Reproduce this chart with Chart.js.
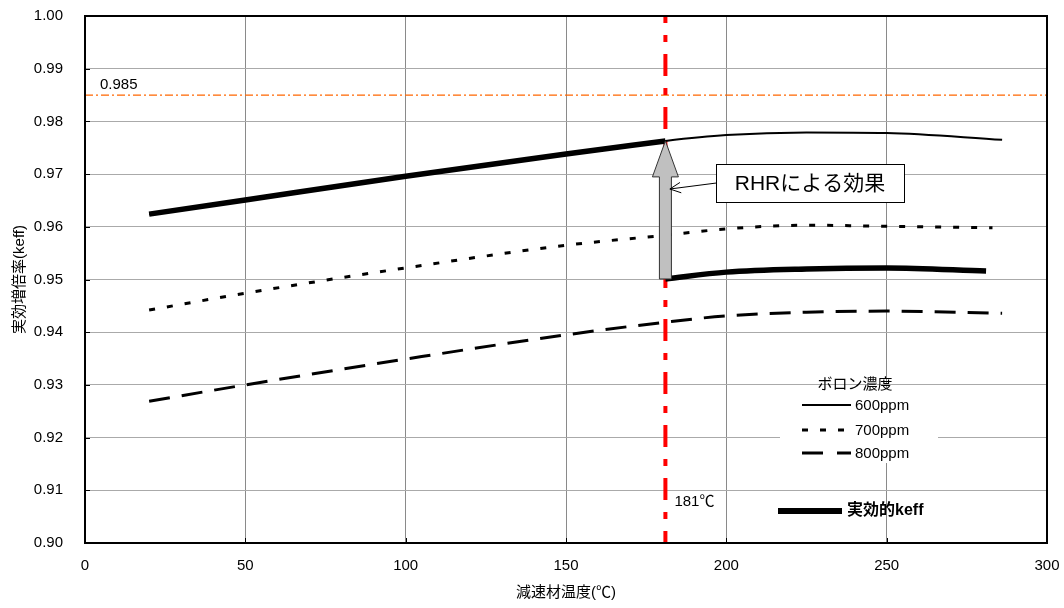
<!DOCTYPE html>
<html>
<head>
<meta charset="utf-8">
<script src="https://cdn.jsdelivr.net/npm/chart.js@4"></script>
<style>
  body { margin: 0; background: #fff; }
  #wrap { width: 1064px; height: 608px; }
</style>
</head>
<body>
<div id="wrap"><canvas id="myChart" width="1064" height="608"></canvas></div>
<script>
// data
var temps = [20, 50, 100, 150, 181, 200, 225, 250, 286];
var keff600 = [0.9624, 0.9651, 0.9696, 0.9738, 0.9763, 0.9774, 0.9779, 0.9778, 0.9765];
var temps700 = [20, 50, 100, 150, 181, 200, 225, 250, 283];
var keff700 = [0.9442, 0.9474, 0.9522, 0.9565, 0.9584, 0.9596, 0.9603, 0.9601, 0.9598];
var keff800 = [0.9269, 0.9300, 0.9349, 0.9395, 0.9419, 0.9431, 0.9438, 0.9440, 0.9436];
var tempsRhr = [181, 200, 225, 250, 281];
var keffRhr = [0.9501, 0.9514, 0.9520, 0.9522, 0.9516];
var limitKeff = 0.985;
var rhrTemp = 181;
var xTicks = [0, 50, 100, 150, 200, 250, 300];
var yTicks = [0.90, 0.91, 0.92, 0.93, 0.94, 0.95, 0.96, 0.97, 0.98, 0.99, 1.00];

var FONT = "'Liberation Sans', 'Noto Sans CJK JP', sans-serif";

function pts(xs, ys) {
   return xs.map(function (x, i) { return { x: x, y: ys[i] }; });
}

// effective keff: 600ppm curve up to 181, then the RHR curve
var effFirst = pts(temps.slice(0, 5), keff600.slice(0, 5));

var curve = { pointRadius: 0, tension: 0.4, cubicInterpolationMode: 'monotone', fill: false };

var datasets = [
   Object.assign({ label: '実効的keff', data: effFirst, borderColor: '#000', borderWidth: 5.5 }, curve),
   Object.assign({ label: '実効的keff2', data: pts(tempsRhr, keffRhr), borderColor: '#000', borderWidth: 5.5 }, curve),
   Object.assign({ label: '600ppm', data: pts(temps, keff600), borderColor: '#000', borderWidth: 2 }, curve),
   Object.assign({ label: '700ppm', data: pts(temps700, keff700), borderColor: '#000', borderWidth: 3, borderDash: [6, 12] }, curve),
   Object.assign({ label: '800ppm', data: pts(temps, keff800), borderColor: '#000', borderWidth: 3, borderDash: [21, 12] }, curve),
   { label: '181', data: [{ x: rhrTemp, y: 1.0 }, { x: rhrTemp, y: 0.9 }], borderColor: '#ff0000', borderWidth: 4,
     borderDash: [22, 12, 7, 12], borderDashOffset: 15, pointRadius: 0 },
   { label: '0.985', data: [{ x: 0, y: limitKeff }, { x: 300, y: limitKeff }], borderColor: '#ff6600', borderWidth: 1.3,
     borderDash: [8, 3, 2, 3], pointRadius: 0 }
];

var extras = {
   id: 'extras',
   afterDatasetsDraw: function (chart) {
      var ctx = chart.ctx;
      var xs = chart.scales.x, ys = chart.scales.y;
      var a = chart.chartArea;

      // frame and inner tick marks
      ctx.save();
      ctx.strokeStyle = '#000';
      ctx.lineWidth = 2;
      ctx.strokeRect(a.left, a.top, a.right - a.left, a.bottom - a.top);
      ctx.lineWidth = 1;
      ctx.beginPath();
      yTicks.forEach(function (v) {
         var py = Math.round(ys.getPixelForValue(v)) + 0.5;
         ctx.moveTo(a.left, py); ctx.lineTo(a.left + 5, py);
      });
      xTicks.forEach(function (v) {
         var px = Math.round(xs.getPixelForValue(v)) + 0.5;
         ctx.moveTo(px, a.bottom); ctx.lineTo(px, a.bottom - 5);
      });
      ctx.stroke();

      // block arrow (RHR effect)
      var ax = xs.getPixelForValue(rhrTemp);
      var yBot = ys.getPixelForValue(keffRhr[0]);
      var yTip = ys.getPixelForValue(keff600[4]);
      var sw = 6, hw = 13, hh = 36;
      ctx.beginPath();
      ctx.moveTo(ax - sw, yBot);
      ctx.lineTo(ax - sw, yTip + hh);
      ctx.lineTo(ax - hw, yTip + hh);
      ctx.lineTo(ax, yTip);
      ctx.lineTo(ax + hw, yTip + hh);
      ctx.lineTo(ax + sw, yTip + hh);
      ctx.lineTo(ax + sw, yBot);
      ctx.closePath();
      ctx.fillStyle = '#c0c0c0';
      ctx.fill();
      ctx.strokeStyle = '#333';
      ctx.lineWidth = 1;
      ctx.stroke();

      // callout box
      var bx1 = xs.getPixelForValue(196.8), bx2 = xs.getPixelForValue(255.4);
      var by1 = ys.getPixelForValue(0.9719), by2 = ys.getPixelForValue(0.9647);
      ctx.fillStyle = '#fff';
      ctx.fillRect(bx1, by1, bx2 - bx1, by2 - by1);
      ctx.strokeStyle = '#000';
      ctx.strokeRect(Math.round(bx1) + 0.5, Math.round(by1) + 0.5, Math.round(bx2 - bx1), Math.round(by2 - by1));
      ctx.fillStyle = '#000';
      ctx.font = '21px ' + FONT;
      ctx.textAlign = 'center';
      ctx.textBaseline = 'middle';
      ctx.fillText('RHRによる効果', (bx1 + bx2) / 2, (by1 + by2) / 2 + 1);

      // leader with open arrowhead
      var lx = xs.getPixelForValue(182.4), ly = ys.getPixelForValue(0.96717);
      var sx = bx1, sy = (by1 + by2) / 2;
      var ang = Math.atan2(sy - ly, sx - lx);
      ctx.beginPath();
      ctx.moveTo(sx, sy); ctx.lineTo(lx, ly);
      ctx.moveTo(lx + 12 * Math.cos(ang - 0.45), ly + 12 * Math.sin(ang - 0.45));
      ctx.lineTo(lx, ly);
      ctx.lineTo(lx + 12 * Math.cos(ang + 0.45), ly + 12 * Math.sin(ang + 0.45));
      ctx.stroke();

      // labels
      ctx.font = '15px ' + FONT;
      ctx.textAlign = 'left';
      ctx.fillText('0.985', 100, ys.getPixelForValue(limitKeff) - 10);
      ctx.fillText('181℃', ax + 9, 502);

      // legend box
      ctx.fillStyle = '#fff';
      ctx.fillRect(780, 388, 158, 75);
      ctx.fillStyle = '#000';
      ctx.textAlign = 'center';
      ctx.fillText('ボロン濃度', 855, 385);
      ctx.textAlign = 'left';
      var rows = [
         { t: '600ppm', y: 405, dash: [], w: 2 },
         { t: '700ppm', y: 430, dash: [6, 12], w: 3 },
         { t: '800ppm', y: 453, dash: [21, 14], w: 3 }
      ];
      rows.forEach(function (r) {
         ctx.save();
         ctx.setLineDash(r.dash);
         ctx.lineWidth = r.w;
         ctx.beginPath();
         ctx.moveTo(802, r.y); ctx.lineTo(851, r.y);
         ctx.stroke();
         ctx.restore();
         ctx.fillText(r.t, 855, r.y + 1);
      });
      ctx.lineWidth = 6;
      ctx.beginPath();
      ctx.moveTo(778, 511); ctx.lineTo(842, 511);
      ctx.stroke();
      ctx.font = 'bold 16px ' + FONT;
      ctx.fillText('実効的keff', 847, 511);
      ctx.restore();
   }
};

var ctx = document.getElementById('myChart').getContext('2d');
var myChart = new Chart(ctx, {
   type: 'line',
   data: { datasets: datasets },
   plugins: [extras],
   options: {
      responsive: false,
      animation: false,
      layout: { padding: { top: 16, right: 17, left: 0, bottom: 0 } },
      plugins: { legend: { display: false }, tooltip: { enabled: false } },
      scales: {
         x: {
            type: 'linear', min: 0, max: 300,
            afterFit: function (s) {
               s.height = 65;
               s.paddingLeft = 0; s.paddingRight = 0;
            },
            afterBuildTicks: function (s) { s.ticks = xTicks.map(function (v) { return { value: v }; }); },
            grid: { color: '#8a8a8a', drawTicks: false },
            border: { color: '#000', width: 2 },
            ticks: { padding: 14, color: '#000', font: { family: FONT, size: 15 }, maxRotation: 0 },
            title: { display: true, text: '減速材温度(℃)', color: '#000', font: { family: FONT, size: 15 }, padding: { top: 0, bottom: 6 } }
         },
         y: {
            type: 'linear', min: 0.9, max: 1.0,
            afterFit: function (s) {
               s.width = 85;
               s.paddingTop = 0; s.paddingBottom = 0;
            },
            afterBuildTicks: function (s) { s.ticks = yTicks.map(function (v) { return { value: v }; }); },
            grid: { color: '#aaaaaa', drawTicks: false },
            border: { color: '#000', width: 2 },
            ticks: { padding: 22, color: '#000', font: { family: FONT, size: 15 },
                     callback: function (v) { return v.toFixed(2); } },
            title: { display: true, text: '実効増倍率(keff)', color: '#000', font: { family: FONT, size: 15 }, padding: { top: 11, bottom: 0 } }
         }
      }
   }
});
</script>
</body>
</html>
